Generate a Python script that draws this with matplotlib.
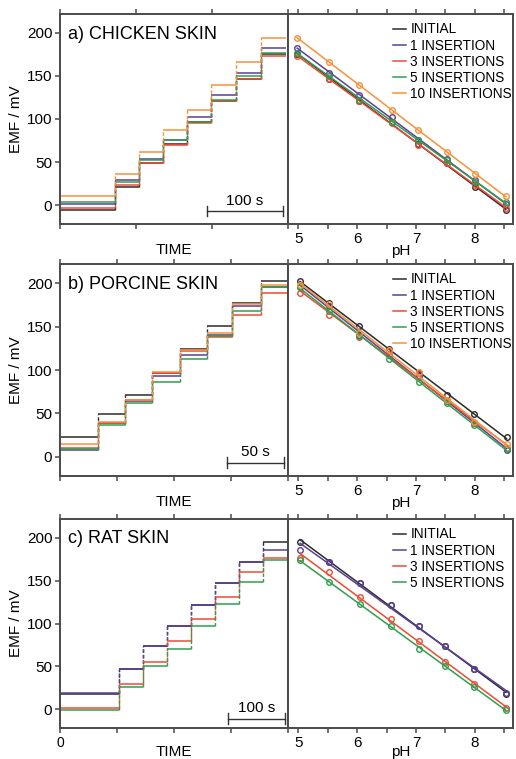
import matplotlib
matplotlib.use("Agg")
import matplotlib.pyplot as plt
import matplotlib.transforms as mtransforms
import numpy as np

plt.rcParams['font.family'] = ['Liberation Sans', 'DejaVu Sans']

# ---------------- data ----------------
labels = ["INITIAL", "1 INSERTION", "3 INSERTIONS", "5 INSERTIONS", "10 INSERTIONS"]
colors = ["#2b2b2b", "#5b3f98", "#f04a35", "#2f9e4e", "#f7913a"]

panel_titles = ["a) CHICKEN SKIN", "b) PORCINE SKIN", "c) RAT SKIN"]

# step boundaries (s) for each panel
time_a = [0, 72, 104, 136, 167, 199, 231, 264, 297]
time_b = [0, 33.6, 57, 81, 105, 129, 151, 176, 199]
time_c = [0, 104, 146, 188, 229.5, 271.5, 314, 357, 398]

# pH of each calibration step (step 1 -> step 8)
ph_a = [8.53, 8.00, 7.52, 7.04, 6.60, 6.04, 5.53, 4.98]
ph_b = [8.54, 7.98, 7.53, 7.05, 6.54, 6.03, 5.52, 5.03]
ph_c = [8.53, 7.98, 7.50, 7.05, 6.58, 6.05, 5.52, 5.03]

# EMF (mV) of each step
emf_a_initial = [-6, 21, 49, 70.4, 96.3, 120.7, 147, 176]
emf_a_1 = [0.8, 28.6, 53.8, 75.4, 102, 128, 153, 183]
emf_a_3 = [-3.5, 23.6, 48.4, 69.6, 94.8, 120.7, 146, 173]
emf_a_5 = [3.5, 26.7, 51.8, 76, 96.3, 122.6, 150, 177]
emf_a_10 = [10.4, 36, 62, 86.7, 110, 140, 166, 194]

emf_b_initial = [22.8, 49.9, 71, 97, 124, 150.9, 177, 202]
emf_b_1 = [8.5, 38.7, 64.6, 93.5, 117.6, 140.8, 173.7, 196]
emf_b_3 = [9.7, 39.5, 65.8, 96.7, 122, 138, 163, 188.8]
emf_b_5 = [9, 36.4, 62, 86, 113, 139, 167.9, 196]
emf_b_10 = [14.5, 40.2, 65, 97.5, 122.7, 143, 176, 198]

emf_c_initial = [17.8, 46.7, 73.4, 96.5, 121.6, 147.5, 172.2, 195.4]
emf_c_1 = [18.5, 46.7, 73.4, 96.5, 121.6, 147.5, 172.2, 185.7]
emf_c_3 = [1.9, 29.3, 55.2, 79.2, 105.4, 130.5, 159.8, 176.8]
emf_c_5 = [-0.8, 25.5, 50.6, 70.7, 96.5, 122.8, 148.3, 173.7]

time_ticks_a = [0, 100, 200, 300]
time_ticks_b = [0, 50, 100, 150, 200]
time_ticks_c = [0, 100, 200, 300, 400]
time_tick_labels_c = ["0", "", "", "", ""]
scale_bar = [(193, 293, "100 s"), (146.5, 196.5, "50 s"), (295, 394, "100 s")]

panels = [
    dict(t=time_a, ph=ph_a, series=[emf_a_initial, emf_a_1, emf_a_3, emf_a_5, emf_a_10],
         xlim=(0, 300), ticks=time_ticks_a, ticklabels=None),
    dict(t=time_b, ph=ph_b, series=[emf_b_initial, emf_b_1, emf_b_3, emf_b_5, emf_b_10],
         xlim=(0, 200), ticks=time_ticks_b, ticklabels=None),
    dict(t=time_c, ph=ph_c, series=[emf_c_initial, emf_c_1, emf_c_3, emf_c_5],
         xlim=(0, 400), ticks=time_ticks_c, ticklabels=time_tick_labels_c),
]

# ---------------- layout ----------------
W, H = 516, 759
fig = plt.figure(figsize=(W / 100, H / 100), dpi=100)
spine_col = "#4a4a4a"
rows = [(14, 224), (264, 476), (519, 728)]
xl0, xmid, xr1 = 60, 288, 513

def style_axes(ax):
    for s in ax.spines.values():
        s.set_color(spine_col)
        s.set_linewidth(1.4)
    ax.tick_params(direction="out", length=3.5, width=1.1, color=spine_col,
                   labelsize=11, pad=2)

for i, (p, (top, bot)) in enumerate(zip(panels, rows)):
    b = 1 - bot / H
    h = (bot - top) / H
    axl = fig.add_axes([xl0 / W, b, (xmid - xl0) / W, h])
    axr = fig.add_axes([xmid / W, b, (xr1 - xmid) / W, h])
    style_axes(axl)
    style_axes(axr)

    # time traces: flat plateaus joined by broken vertical transitions
    t = np.array(p["t"])
    for emf, c in zip(p["series"], colors):
        emf = np.array(emf)
        axl.hlines(emf, t[:-1], t[1:], colors=c, lw=1.1)
        axl.vlines(t[1:-1], emf[:-1], emf[1:], colors=c, lw=1.0,
                   linestyles=(0, (2.5, 1.5)))
    axl.set_xlim(*p["xlim"])
    axl.set_ylim(-22, 222)
    axl.set_yticks([0, 50, 100, 150, 200])
    axl.set_xticks(p["ticks"])
    if p["ticklabels"] is None:
        axl.set_xticklabels([""] * len(p["ticks"]))
    else:
        axl.set_xticklabels(p["ticklabels"])
    axl.tick_params(axis="x", top=True, labelsize=10)
    axl.set_xlabel("TIME", fontsize=11, labelpad=8 if p["ticklabels"] is None else -3)
    axl.set_ylabel("EMF / mV", fontsize=11, labelpad=3)
    axl.text(0.035, 0.945, panel_titles[i], transform=axl.transAxes,
             fontsize=13, va="top", ha="left")

    # scale bar
    x0, x1, lab = scale_bar[i]
    trans = mtransforms.blended_transform_factory(axl.transData, axl.transAxes)
    ybar = 0.063 if i < 2 else 0.045
    axl.plot([x0, x1], [ybar, ybar], color="#333333", lw=1.0, transform=trans)
    axl.plot([x0, x0], [ybar - 0.025, ybar + 0.025], color="#333333", lw=1.0, transform=trans)
    axl.plot([x1, x1], [ybar - 0.025, ybar + 0.025], color="#333333", lw=1.0, transform=trans)
    axl.text((x0 + x1) / 2, ybar + 0.015, lab, transform=trans, ha="center",
             va="bottom", fontsize=11)

    # calibration
    ph = np.array(p["ph"])
    for emf, c, lab in zip(p["series"], colors, labels):
        emf = np.array(emf)
        k, q = np.polyfit(ph, emf, 1)
        xs = np.array([ph.min(), ph.max()])
        axr.plot(xs, k * xs + q, color=c, lw=1.1, label=lab)
        axr.plot(ph, emf, "o", mfc="none", mec=c, ms=4.0, mew=1.0)
    axr.set_xlim(4.825, 8.65)
    axr.set_ylim(-22, 222)
    axr.set_xticks([5, 5.5, 6, 6.5, 7, 7.5, 8, 8.5])
    axr.set_xticklabels(["5", "", "6", "", "7", "", "8", ""])
    axr.tick_params(axis="x", top=True, labelsize=11)
    axr.tick_params(axis="y", left=False, labelleft=False)
    axr.set_xlabel("pH", fontsize=11, labelpad=-3 if i == 2 else -1)
    axr.legend(loc="upper left", bbox_to_anchor=(0.468, 0.96), frameon=False,
               fontsize=9.8, handlelength=0.9, handletextpad=0.35,
               labelspacing=0.16, borderpad=0, borderaxespad=0)

fig.savefig("out.png", dpi=100)
